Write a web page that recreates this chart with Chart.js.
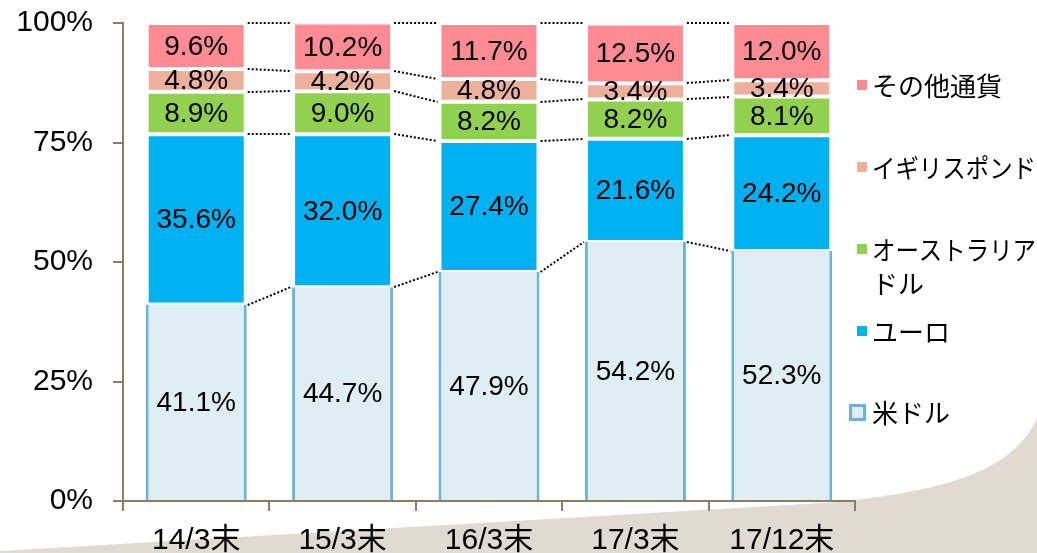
<!DOCTYPE html>
<html><head><meta charset="utf-8">
<script src="https://cdn.jsdelivr.net/npm/chart.js@4.4.1/dist/chart.umd.min.js"></script>
<style>html,body{margin:0;padding:0;background:#fff;overflow:hidden}#wrap{width:1037px;height:553px;position:relative}</style>
</head><body><div id="wrap"><canvas id="c" width="1037" height="553"></canvas></div>
<script>
const categories = ['14/3末','15/3末','16/3末','17/3末','17/12末'];
const usd   = [41.1, 44.7, 47.9, 54.2, 52.3];
const eur   = [35.6, 32.0, 27.4, 21.6, 24.2];
const aud   = [8.9, 9.0, 8.2, 8.2, 8.1];
const gbp   = [4.8, 4.2, 4.8, 3.4, 3.4];
const other = [9.6, 10.2, 11.7, 12.5, 12.0];
const yTicks = [0, 25, 50, 75, 100];
const seriesNames = ['米ドル', 'ユーロ', 'オーストラリアドル', 'イギリスポンド', 'その他通貨'];
const legendLines = [['その他通貨'], ['イギリスポンド'], ['オーストラリア', 'ドル'], ['ユーロ'], ['米ドル']];

const AXIS = '#8B7D5F';
const NUMFONT = "'Liberation Sans', Arial, 'Noto Sans CJK JP', sans-serif";
const JPFONT = "'Noto Sans CJK JP', 'Liberation Sans', sans-serif";
const colors = {
  usdFill: '#DFEDF5', usdBorder: '#6DB3D8',
  eur: '#00B0F0', aud: '#92D050', gbp: '#EDB09C', other: '#FF8B94'
};

const innerBorder = {top: 2, bottom: 2, left: 3, right: 3};

const bgPlugin = {
  id: 'bg',
  beforeDraw(chart) {
    const ctx = chart.ctx;
    ctx.save();
    ctx.fillStyle = '#fff';
    ctx.fillRect(0, 0, chart.width, chart.height);
    ctx.fillStyle = '#DFDBD3';
    ctx.beginPath();
    ctx.moveTo(0, 553);
    ctx.lineTo(0, 551);
    ctx.lineTo(840, 502);
    ctx.bezierCurveTo(920, 492, 1010, 480, 1037, 418);
    ctx.lineTo(1037, 553);
    ctx.closePath();
    ctx.fill();
    ctx.restore();
  }
};

const connectorPlugin = {
  id: 'connectors',
  afterDatasetsDraw(chart) {
    const ctx = chart.ctx;
    const y = chart.scales.y;
    const metas = chart.data.datasets.map((d, i) => chart.getDatasetMeta(i));
    const n = categories.length;
    ctx.save();
    ctx.strokeStyle = '#000';
    ctx.lineWidth = 2;
    ctx.setLineDash([2, 2]);
    for (let i = 0; i < n - 1; i++) {
      let cumA = 0, cumB = 0;
      for (let k = 0; k < chart.data.datasets.length; k++) {
        cumA += chart.data.datasets[k].data[i];
        cumB += chart.data.datasets[k].data[i + 1];
        const a = metas[k].data[i], b = metas[k].data[i + 1];
        const x1 = a.x + a.width / 2 + 1;
        const x2 = b.x - b.width / 2 - 1;
        const y1 = Math.round(y.getPixelForValue(Math.min(cumA, 100)));
        const y2 = Math.round(y.getPixelForValue(Math.min(cumB, 100)));
        ctx.beginPath();
        ctx.moveTo(x1, y1);
        ctx.lineTo(x2, y2);
        ctx.stroke();
      }
    }
    ctx.restore();
  }
};

const labelPlugin = {
  id: 'labels',
  afterDatasetsDraw(chart) {
    const ctx = chart.ctx;
    ctx.save();
    ctx.fillStyle = '#000';
    ctx.font = '28px ' + NUMFONT;
    ctx.textAlign = 'center';
    ctx.textBaseline = 'middle';
    chart.data.datasets.forEach((ds, k) => {
      const meta = chart.getDatasetMeta(k);
      meta.data.forEach((el, i) => {
        const yc = (el.y + el.base) / 2;
        ctx.fillText(ds.data[i].toFixed(1) + '%', el.x, yc + 1);
      });
    });
    ctx.restore();
  }
};

const legendPlugin = {
  id: 'customLegend',
  afterDraw(chart) {
    const ctx = chart.ctx;
    const items = [
      {fill: colors.other, y: 85},
      {fill: colors.gbp, y: 167},
      {fill: colors.aud, y: 249},
      {fill: colors.eur, y: 331},
      {fill: colors.usdFill, border: colors.usdBorder, y: 412}
    ];
    ctx.save();
    ctx.font = '26px ' + JPFONT;
    ctx.textBaseline = 'middle';
    ctx.textAlign = 'left';
    items.forEach((it, idx) => {
      if (it.border) {
        ctx.fillStyle = it.border;
        ctx.fillRect(849, it.y - 8, 17, 17);
        ctx.fillStyle = it.fill;
        ctx.fillRect(852, it.y - 5, 11, 11);
      } else {
        ctx.fillStyle = it.fill;
        ctx.fillRect(857, it.y - 5, 10, 10);
      }
      ctx.fillStyle = '#000';
      legendLines[idx].forEach((t, j) => ctx.fillText(t, 872, it.y + 1 + j * 34, 164));
    });
    ctx.restore();
  }
};

new Chart(document.getElementById('c'), {
  type: 'bar',
  data: {
    labels: categories,
    datasets: [
      {label: seriesNames[0], data: usd, backgroundColor: colors.usdFill, borderColor: colors.usdBorder,
       borderWidth: {left: 3, right: 3, top: 0, bottom: 0}, borderSkipped: false},
      {label: seriesNames[1], data: eur, backgroundColor: colors.eur, borderColor: '#fff', borderWidth: innerBorder, borderSkipped: false},
      {label: seriesNames[2], data: aud, backgroundColor: colors.aud, borderColor: '#fff', borderWidth: innerBorder, borderSkipped: false},
      {label: seriesNames[3], data: gbp, backgroundColor: colors.gbp, borderColor: '#fff', borderWidth: innerBorder, borderSkipped: false},
      {label: seriesNames[4], data: other, backgroundColor: colors.other, borderColor: '#fff', borderWidth: innerBorder, borderSkipped: false}
    ]
  },
  options: {
    responsive: false,
    animation: false,
    devicePixelRatio: 1,
    layout: {padding: {top: 23, right: 182, left: 0, bottom: 0}},
    datasets: {bar: {barPercentage: 0.69, categoryPercentage: 1}},
    plugins: {legend: {display: false}, tooltip: {enabled: false}},
    scales: {
      x: {
        stacked: true,
        grid: {display: true, drawOnChartArea: false, drawTicks: true, tickLength: 10, color: AXIS, lineWidth: 2, offset: true},
        border: {display: true, color: AXIS, width: 2},
        ticks: {color: '#000', font: {size: 30, family: NUMFONT}, padding: 12, maxRotation: 0, autoSkip: false},
        afterFit(s) { s.height = 52; s.paddingLeft = 0; s.paddingRight = 0; }
      },
      y: {
        stacked: true,
        min: 0, max: 100,
        afterBuildTicks(s) { s.ticks = yTicks.map(v => ({value: v})); },
        grid: {display: true, drawOnChartArea: false, drawTicks: true, tickLength: 10, color: AXIS, lineWidth: 2},
        border: {display: true, color: AXIS, width: 2},
        ticks: {color: '#000', font: {size: 30, family: NUMFONT}, padding: 20, callback: v => v + '%'},
        afterFit(s) { s.width = 123; s.paddingTop = 0; s.paddingBottom = 0; }
      }
    }
  },
  plugins: [bgPlugin, connectorPlugin, labelPlugin, legendPlugin]
});
</script></body></html>
